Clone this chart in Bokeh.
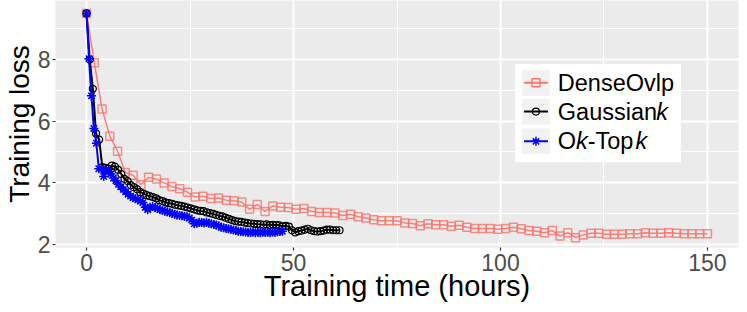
from bokeh.plotting import figure
from bokeh.models import FixedTicker, Range1d
from bokeh.embed import file_html
from bokeh.resources import INLINE
from bokeh.core.properties import value

# ---------------- data ----------------
x_ticks = [0, 50, 100, 150]
x_minor = [25, 75, 125]
y_ticks = [2, 4, 6, 8]
y_minor = [3, 5, 7, 9]

dense_time = [0, 1.875, 3.75, 5.625, 7.5, 9.375, 11.25, 13.125, 15, 16.875,
              18.75, 20.625, 22.5, 24.375, 26.25, 28.125, 30, 31.875, 33.75, 35.625,
              37.5, 39.375, 41.25, 43.125, 45, 46.875, 48.75, 50.625, 52.5, 54.375,
              56.25, 58.125, 60, 61.875, 63.75, 65.625, 67.5, 69.375, 71.25, 73.125,
              75, 76.875, 78.75, 80.625, 82.5, 84.375, 86.25, 88.125, 90, 91.875,
              93.75, 95.625, 97.5, 99.375, 101.25, 103.125, 105, 106.875, 108.75, 110.625,
              112.5, 114.375, 116.25, 118.125, 120, 121.875, 123.75, 125.625, 127.5, 129.375,
              131.25, 133.125, 135, 136.875, 138.75, 140.625, 142.5, 144.375, 146.25, 148.125,
              150]
dense_loss = [9.5, 7.9, 6.39, 5.51, 5.02, 4.33, 4.24, 3.93, 4.17, 4.12,
              3.99, 3.87, 3.80, 3.69, 3.53, 3.56, 3.48, 3.50, 3.43, 3.41,
              3.37, 3.13, 3.29, 3.06, 3.24, 3.20, 3.19, 3.13, 3.16, 3.06,
              3.03, 3.03, 3.01, 2.93, 2.97, 2.89, 2.85, 2.79, 2.76, 2.76,
              2.76, 2.69, 2.67, 2.60, 2.66, 2.63, 2.63, 2.58, 2.61, 2.55,
              2.51, 2.51, 2.51, 2.48, 2.51, 2.55, 2.50, 2.44, 2.42, 2.37,
              2.44, 2.26, 2.37, 2.21, 2.30, 2.35, 2.35, 2.32, 2.32, 2.32,
              2.34, 2.34, 2.37, 2.35, 2.35, 2.37, 2.35, 2.34, 2.34, 2.34,
              2.34]

gauss_time = [0, 0.76, 1.53, 2.29, 3.06, 3.82, 4.58, 5.35, 6.11, 6.88,
              7.64, 8.40, 9.17, 9.93, 10.70, 11.46, 12.22, 12.99, 13.75, 14.51,
              15.28, 16.04, 16.80, 17.57, 18.33, 19.10, 19.86, 20.62, 21.39, 22.15,
              22.92, 23.68, 24.44, 25.21, 25.97, 26.74, 27.50, 28.26, 29.03, 29.79,
              30.55, 31.32, 32.08, 32.85, 33.61, 34.37, 35.14, 35.90, 36.67, 37.43,
              38.19, 38.96, 39.72, 40.48, 41.25, 42.01, 42.78, 43.54, 44.30, 45.07,
              45.83, 46.60, 47.36, 48.12, 48.89, 49.65, 50.41, 51.18, 51.94, 52.71,
              53.47, 54.23, 55.00, 55.76, 56.53, 57.29, 58.05, 58.82, 59.58, 60.35,
              61.11]
gauss_loss = [9.5, 8.0, 7.05, 5.6, 5.4, 4.5, 4.48, 4.45, 4.55, 4.52,
              4.42, 4.28, 4.12, 4.05, 3.92, 3.85, 3.78, 3.69, 3.64, 3.59,
              3.56, 3.53, 3.49, 3.43, 3.40, 3.36, 3.33, 3.31, 3.28, 3.26,
              3.24, 3.22, 3.19, 3.16, 3.13, 3.10, 3.08, 3.07, 3.03, 3.01,
              2.98, 2.95, 2.92, 2.90, 2.86, 2.82, 2.78, 2.75, 2.73, 2.72,
              2.70, 2.68, 2.67, 2.66, 2.65, 2.64, 2.63, 2.64, 2.62, 2.63,
              2.62, 2.61, 2.58, 2.59, 2.57, 2.45, 2.38, 2.42, 2.44, 2.47,
              2.50, 2.45, 2.42, 2.41, 2.42, 2.44, 2.47, 2.47, 2.45, 2.45,
              2.45]

oktopk_time = [0, 0.59, 1.18, 1.77, 2.37, 2.96, 3.55, 4.14, 4.73, 5.32,
               5.91, 6.50, 7.10, 7.69, 8.28, 8.87, 9.46, 10.05, 10.64, 11.23,
               11.83, 12.42, 13.01, 13.60, 14.19, 14.78, 15.37, 15.96, 16.56, 17.15,
               17.74, 18.33, 18.92, 19.51, 20.10, 20.69, 21.29, 21.88, 22.47, 23.06,
               23.65, 24.24, 24.83, 25.42, 26.02, 26.61, 27.20, 27.79, 28.38, 28.97,
               29.56, 30.15, 30.75, 31.34, 31.93, 32.52, 33.11, 33.70, 34.29, 34.88,
               35.48, 36.07, 36.66, 37.25, 37.84, 38.43, 39.02, 39.61, 40.21, 40.80,
               41.39, 41.98, 42.57, 43.16, 43.75, 44.34, 44.94, 45.53, 46.12, 46.71,
               47.30]
oktopk_loss = [9.5, 8.03, 6.82, 5.76, 5.28, 4.45, 4.45, 4.2, 4.42, 4.35,
               4.28, 4.15, 4.06, 3.95, 3.86, 3.78, 3.70, 3.62, 3.56, 3.51,
               3.48, 3.44, 3.40, 3.35, 3.20, 3.12, 3.20, 3.22, 3.19, 3.16,
               3.12, 3.10, 3.07, 3.05, 3.02, 3.00, 2.97, 2.95, 2.93, 2.92,
               2.91, 2.89, 2.85, 2.78, 2.66, 2.68, 2.71, 2.70, 2.69, 2.71,
               2.68, 2.66, 2.64, 2.62, 2.59, 2.55, 2.53, 2.51, 2.50, 2.48,
               2.46, 2.44, 2.42, 2.41, 2.40, 2.39, 2.38, 2.38, 2.39, 2.37,
               2.38, 2.37, 2.39, 2.38, 2.38, 2.37, 2.39, 2.38, 2.40, 2.41,
               2.42]

x_title = "Training time (hours)"
y_title = "Training loss"
series_names = ["DenseOvlp", "Gaussian", "O", "-Top"]

# ---------------- layout ----------------
FONT = "Liberation Sans"
W, H = 739, 304
ML, MR, MT, MB = 50, 1, 0, 55
FW, FH = W - ML - MR, H - MT - MB
X0, X1 = -7.5, 157.5
Y0, Y1 = 1.89, 9.92

PINK = "#F8766D"

p = figure(width=W, height=H, x_range=Range1d(X0, X1), y_range=Range1d(Y0, Y1),
           output_backend="svg", toolbar_location=None,
           min_border_left=ML, min_border_right=MR, min_border_top=MT, min_border_bottom=MB)
p.background_fill_color = "#EBEBEB"
p.border_fill_color = "white"
p.outline_line_color = None

xt = FixedTicker(ticks=x_ticks, minor_ticks=x_minor)
yt = FixedTicker(ticks=y_ticks, minor_ticks=y_minor)
p.xaxis.ticker = xt
p.yaxis.ticker = yt
p.xgrid.ticker = xt
p.ygrid.ticker = yt
for g in (p.xgrid, p.ygrid):
    g.grid_line_color = "white"
    g.grid_line_width = 2
    g.minor_grid_line_color = "white"
    g.minor_grid_line_width = 1

for ax in (p.xaxis, p.yaxis):
    ax.axis_line_color = None
    ax.major_tick_line_color = "#333333"
    ax.major_tick_line_width = 1.2
    ax.major_tick_out = 3
    ax.major_tick_in = 0
    ax.minor_tick_line_color = None
    ax.major_label_text_font = FONT
    ax.major_label_text_font_size = "23px"
    ax.major_label_text_color = "#4D4D4D"
    ax.major_label_standoff = 2
    ax.axis_label_text_font = FONT
    ax.axis_label_text_font_size = "29px"
    ax.axis_label_text_font_style = "normal"
    ax.axis_label_text_color = "black"

p.xaxis.axis_label = x_title
p.yaxis.axis_label = y_title
p.xaxis.axis_label_standoff = -4
p.yaxis.axis_label_standoff = 0
p.yaxis.major_label_standoff = 1
p.yaxis.axis_label_text_font_size = "28px"


def dx(px):
    return X0 + px / FW * (X1 - X0)


def dy(py):
    return Y1 - py / FH * (Y1 - Y0)


# ---------------- series ----------------
p.line(dense_time, dense_loss, line_color=PINK, line_width=1.5, line_alpha=0.9)
p.scatter(dense_time, dense_loss, marker="square", size=8, fill_color=None,
          line_color=PINK, line_width=1.5, line_alpha=0.8)
p.line(gauss_time, gauss_loss, line_color="black", line_width=2)
p.scatter(gauss_time, gauss_loss, marker="circle", size=7, fill_color=None,
          line_color="black", line_width=1.2)
p.line(oktopk_time, oktopk_loss, line_color="blue", line_width=2)
p.scatter(oktopk_time, oktopk_loss, marker="asterisk", size=9,
          line_color="blue", line_width=1.5)

# ---------------- legend (drawn by hand to allow italic k) ----------------
LS = 23.5
box_l, box_r, box_t, box_b = 463, 630, 64, 163
rows = [83, 112, 142]
kx, khw, khh = 484, 14, 13
tx = 506

p.quad(left=[dx(box_l)], right=[dx(box_r)], top=[dy(box_t)], bottom=[dy(box_b)],
       fill_color="white", line_color=None)
p.quad(left=[dx(kx - khw)] * 3, right=[dx(kx + khw)] * 3,
       top=[dy(r - khh) for r in rows], bottom=[dy(r + khh) for r in rows],
       fill_color="#F2F2F2", line_color=None)
key_cols = [PINK, "black", "blue"]
p.segment(x0=[dx(kx - 12)] * 3, x1=[dx(kx + 12)] * 3,
          y0=[dy(r) for r in rows], y1=[dy(r) for r in rows],
          line_color=key_cols, line_width=2)
p.scatter([dx(kx)], [dy(rows[0])], marker="square", size=8, fill_color=None,
          line_color=PINK, line_width=1.5)
p.scatter([dx(kx)], [dy(rows[1])], marker="circle", size=7, fill_color=None,
          line_color="black", line_width=1.2)
p.scatter([dx(kx)], [dy(rows[2])], marker="asterisk", size=9,
          line_color="blue", line_width=1.5)

normal_x = [tx, tx, tx, tx + 1.278 * LS]
normal_y = [rows[0], rows[1], rows[2], rows[2]]
p.text(x=[dx(v) for v in normal_x], y=[dy(v) for v in normal_y], text=series_names,
       text_font=value(FONT), text_font_size=f"{LS}px", text_color="black",
       text_baseline="middle", text_align="left")
ital_x = [tx + 4.224 * LS, tx + 0.778 * LS, tx + 3.334 * LS]
ital_y = [rows[1], rows[2], rows[2]]
p.text(x=[dx(v) for v in ital_x], y=[dy(v) for v in ital_y], text=["k", "k", "k"],
       text_font=value(FONT), text_font_size=f"{LS}px", text_font_style="italic",
       text_color="black", text_baseline="middle", text_align="left")

open("out.html", "w").write(file_html(p, INLINE))
